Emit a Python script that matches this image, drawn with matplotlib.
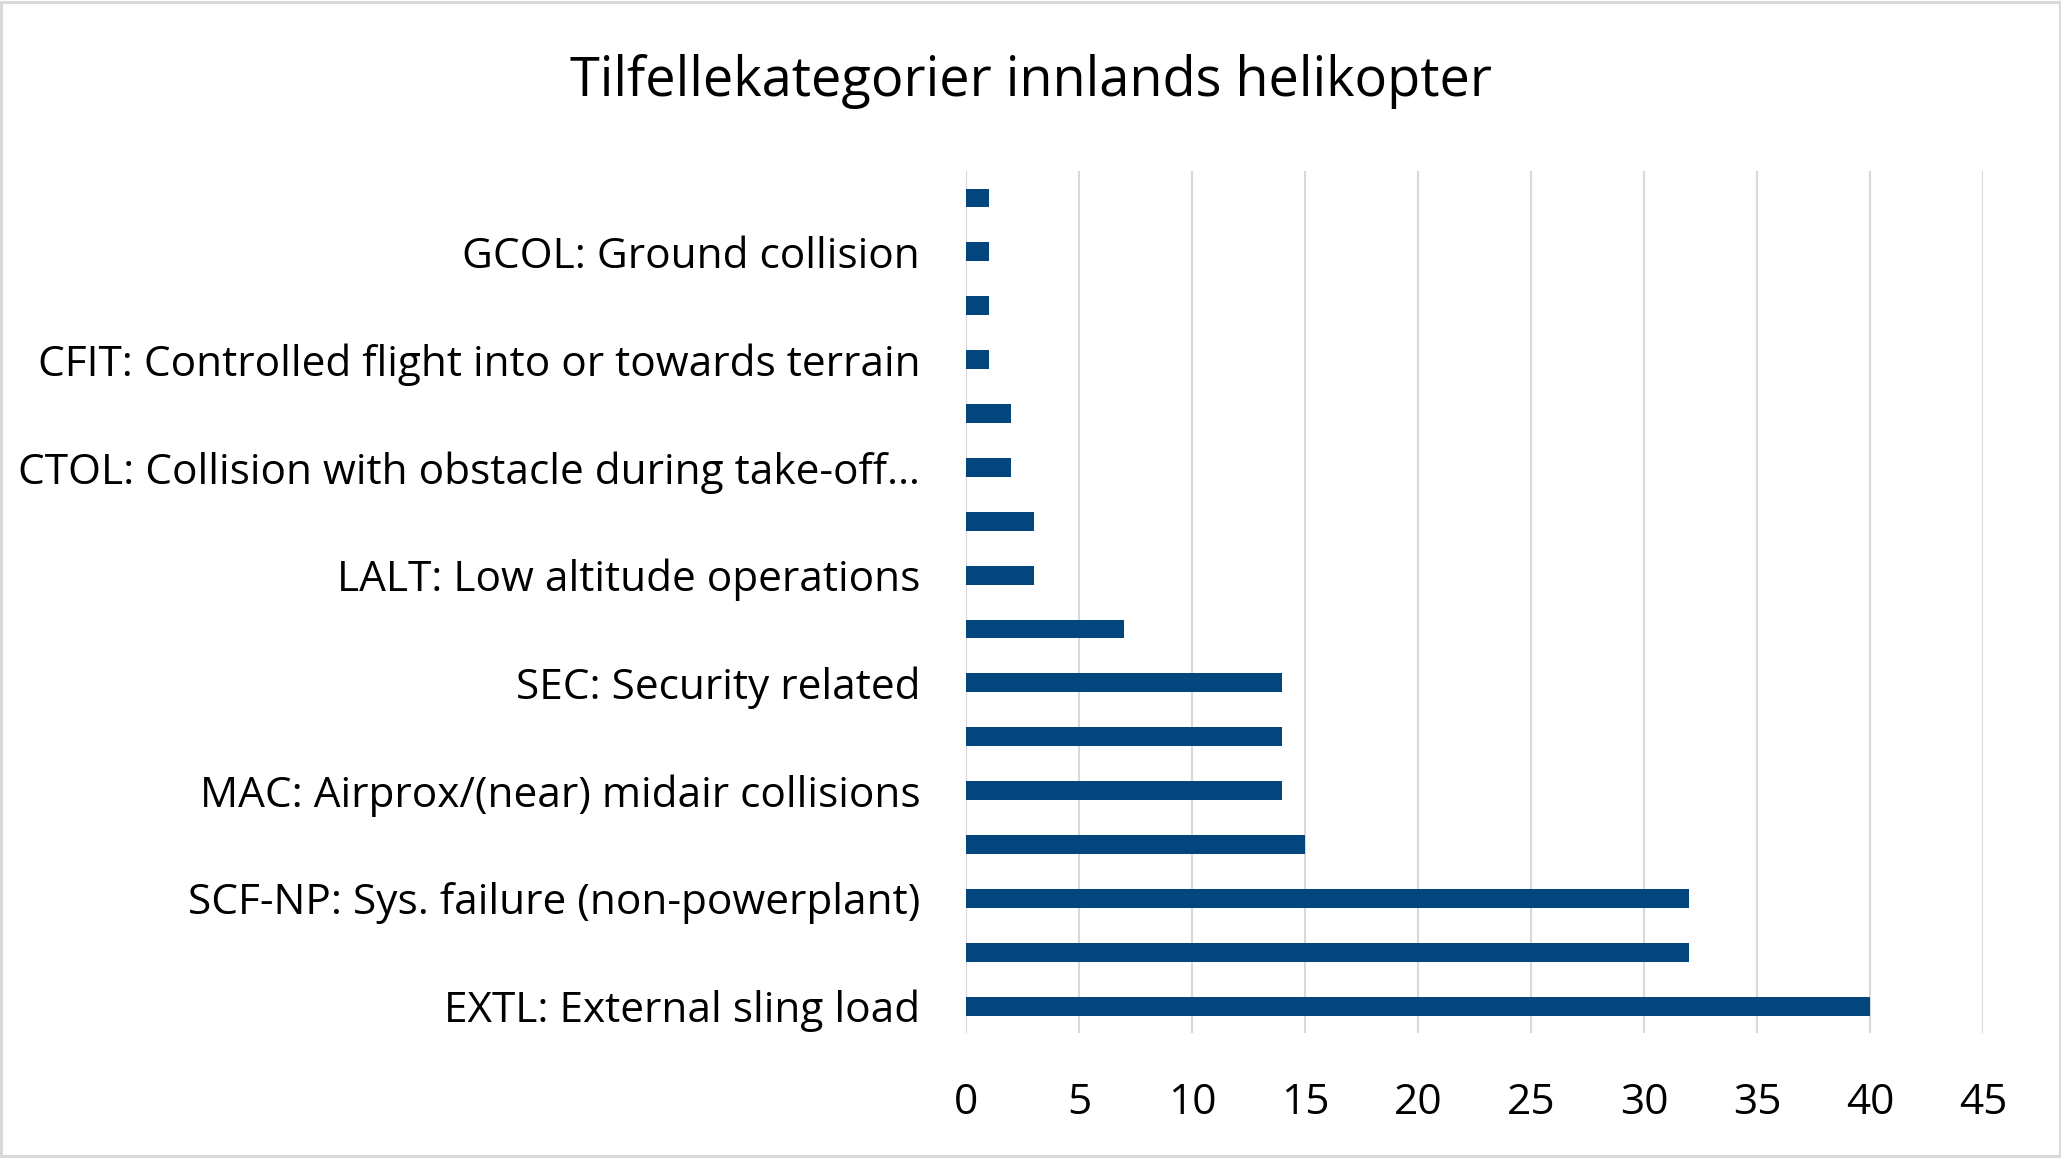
import matplotlib
matplotlib.use("Agg")
import matplotlib.pyplot as plt
from matplotlib.patches import Rectangle

plt.rcParams['font.family'] = ['Open Sans', 'DejaVu Sans']

title = "Tilfellekategorier innlands helikopter"
# bottom to top; unlabeled rows (every other row in the reference) are left blank
categories = [
    "EXTL: External sling load", "",
    "SCF-NP: Sys. failure (non-powerplant)", "",
    "MAC: Airprox/(near) midair collisions", "",
    "SEC: Security related", "",
    "LALT: Low altitude operations", "",
    "CTOL: Collision with obstacle during take-off\u2026", "",
    "CFIT: Controlled flight into or towards terrain", "",
    "GCOL: Ground collision", "",
]
values = [40, 32, 32, 15, 14, 14, 14, 7, 3, 3, 2, 2, 1, 1, 1, 1]
xticks = [0, 5, 10, 15, 20, 25, 30, 35, 40, 45]

BAR = "#03467E"
GRID = "#D9D9D9"

fig = plt.figure(figsize=(20.61, 11.58), dpi=100)
ax = fig.add_axes([0.4687, 0.1079, 0.9622 - 0.4687, 0.8523 - 0.1079])

y = list(range(len(values)))
ax.barh(y, values, height=0.35, color=BAR, zorder=3)
ax.set_ylim(-0.5, len(values) - 0.5)
ax.set_xlim(0, 45)
ax.set_xticks(xticks)
ax.set_xticklabels([str(t) for t in xticks])
ax.set_yticks(y)
ax.set_yticklabels(categories)

ax.grid(axis='x', color=GRID, linewidth=1.5, zorder=0)
ax.grid(axis='y', visible=False)
for s in ax.spines.values():
    s.set_visible(False)
ax.tick_params(axis='both', length=0, labelsize=30.5, colors='black')
ax.tick_params(axis='x', pad=35)
ax.tick_params(axis='y', pad=33)

fig.text(0.5, 0.93, title, ha='center', va='center', fontsize=39)

fig.patches.append(Rectangle((0.0007, 0.0013), 0.9986, 0.9974, transform=fig.transFigure,
                             fill=False, edgecolor=GRID, linewidth=2.2))

fig.savefig("out.png", dpi=100, facecolor='white')
